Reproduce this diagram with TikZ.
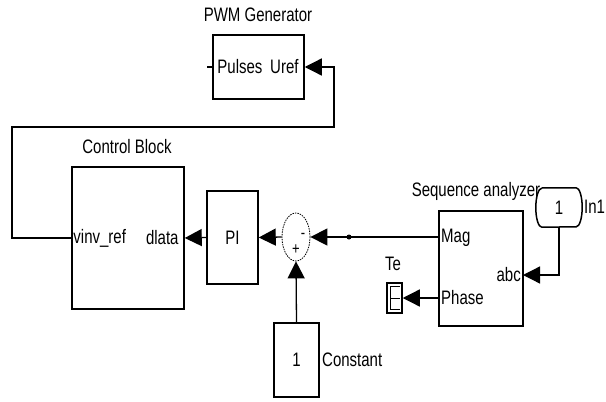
\documentclass[tikz,border=0pt]{standalone}
\usepackage{fontspec}
\setmainfont{Liberation Sans}
\usetikzlibrary{arrows.meta,shapes.geometric}
\newcommand{\tl}[1]{\scalebox{1}[1.3]{#1}}
\begin{document}
\begin{tikzpicture}[x=1pt,y=-1pt,
 blk/.style={draw,line width=1.5pt,inner sep=0pt,fill=white},
 lbl/.style={inner sep=0pt,font=\fontsize{15}{15}\selectfont},
 wire/.style={line width=1.3pt},
 sig/.style={wire,-{Triangle[length=17pt,width=17pt]}}]
\useasboundingbox[fill=white] (0,0) rectangle (606,402);

% blocks
\node[blk,minimum width=91pt,minimum height=64pt] (pwm) at (258.5,67) {};
\node[blk,minimum width=112pt,minimum height=142pt] (ctrl) at (128,238) {};
\node[blk,minimum width=51pt,minimum height=93pt,lbl] (pi) at (232.5,237.5) {\tl{PI}};
\node[draw,ellipse,dash pattern=on 1.5pt off 1pt,line width=0.8pt,minimum width=28pt,minimum height=48pt,inner sep=0pt] (sum) at (296,237) {};
\node[blk,minimum width=84pt,minimum height=115pt] (seq) at (481,268.5) {};
\node[blk,minimum width=45pt,minimum height=74pt,lbl] (const) at (296.5,360) {\tl{1}};
\node[blk,minimum width=15pt,minimum height=30pt] (te) at (394.5,298) {};
\node[circle,fill,inner sep=0pt,minimum size=5pt] (dot) at (349,237) {};

% titles and labels
\node[lbl] (pwmt) at (258,15) {\tl{PWM Generator}};
\node[lbl,anchor=west] (pulses) at ([xshift=5pt]pwm.west) {\tl{Pulses}};
\node[lbl,anchor=east] (uref) at ([xshift=-6pt]pwm.east) {\tl{Uref}};
\node[lbl] (ctrlt) at (127,147) {\tl{Control Block}};
\node[lbl,anchor=west] (vinv) at ([xshift=2pt]ctrl.west) {\tl{vinv\_ref}};
\node[lbl,anchor=east] (dlata) at ([xshift=-6pt]ctrl.east) {\tl{dlata}};
\node[lbl,font=\fontsize{13}{13}\selectfont] (minus) at (303,236) {\tl{-}};
\node[lbl,font=\fontsize{13}{13}\selectfont] (plus) at (296,250) {\tl{+}};
\node[lbl] (seqt) at (476,191) {\tl{Sequence analyzer}};
\node[lbl,anchor=west] (mag) at (441,238) {\tl{Mag}};
\node[lbl,anchor=east] (abc) at (521,275) {\tl{abc}};
\node[lbl,anchor=west] (phase) at (441,298) {\tl{Phase}};
\node[lbl] (tet) at (393,264) {\tl{Te}};
\node[lbl,anchor=west] (constt) at (322,360) {\tl{Constant}};

% In1 (drawn over the title)
\node[fill=white,minimum width=34pt,minimum height=39pt,inner sep=0pt] (in1) at (559,207.5) {};
\filldraw[line width=1.5pt,fill=white] (in1.north west) -- (in1.north east) arc[start angle=90,end angle=-90,x radius=6pt,y radius=19.5pt]
  -- (in1.south west) arc[start angle=-90,end angle=-270,x radius=6pt,y radius=19.5pt];
\node[lbl] (in1n) at (in1) {\tl{1}};
\node[lbl,anchor=west] (in1t) at (584,207) {\tl{In1}};

% Te inner mark
\draw[line width=0.9pt] ([xshift=-3pt,yshift=-4pt]te.north east) -| ([xshift=4pt,yshift=4pt]te.south west) -- ([xshift=-3pt,yshift=4pt]te.south east);
\draw[line width=0.9pt] ([xshift=4pt]te.west) -- ([xshift=-3pt]te.east);

% connectors
\coordinate (fbl) at (12,127);
\coordinate (fbr) at (334,127);
\coordinate (stub) at (207,67);
\coordinate (abcin) at (523,275);
\coordinate (phin) at (439,298);
\coordinate (magin) at (439,237);
\draw[sig] (ctrl.west) -| (fbl) -- (fbr) |- (pwm.east);
\draw[wire] (pwm.west) -- (stub);
\draw[sig] (pi.west) -- (ctrl.east);
\draw[sig] (sum.west) -- (pi.east);
\draw[sig] (magin) -- (sum.east);
\draw[sig] (const.north) -- (sum.south);
\draw[sig] (in1.south) |- (abcin);
\draw[sig] (phin) -- (te.east);
\end{tikzpicture}
\end{document}
